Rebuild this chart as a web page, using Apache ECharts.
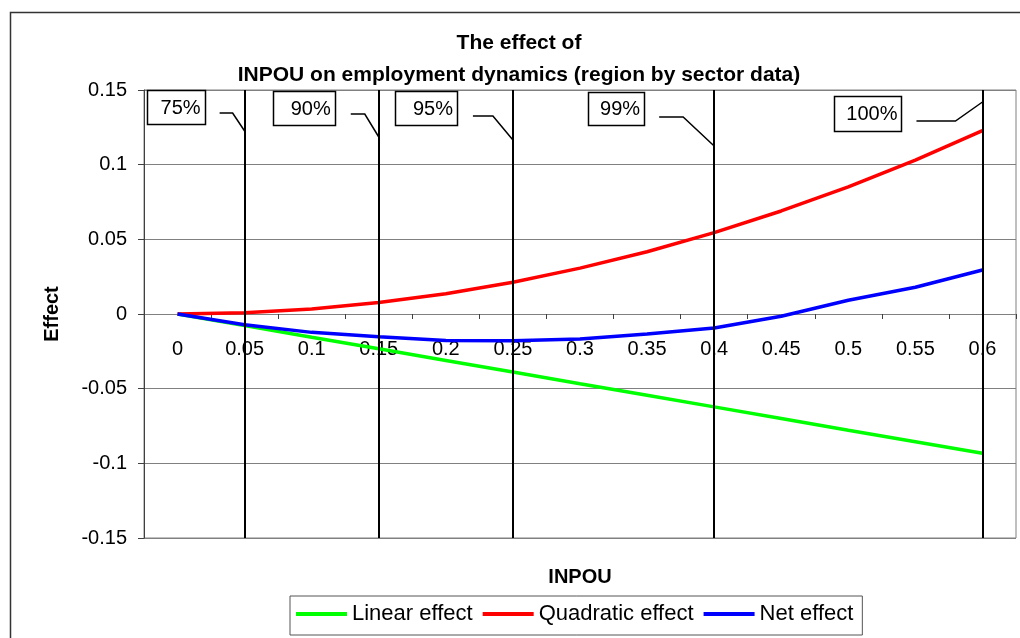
<!DOCTYPE html>
<html><head><meta charset="utf-8">
<script src="https://cdn.jsdelivr.net/npm/echarts@6/dist/echarts.min.js"></script>
<style>html,body{margin:0;padding:0;background:#fff}#c{width:1020px;height:638px}</style>
</head><body><div id="c"></div>
<script>
// ---- data ----
const categories = ['0','0.05','0.1','0.15','0.2','0.25','0.3','0.35','0.4','0.45','0.5','0.55','0.6'];
const linearEffect = [0,-0.0078,-0.0156,-0.0233,-0.0311,-0.0389,-0.0467,-0.0544,-0.0622,-0.07,-0.0778,-0.0855,-0.0933];
const quadraticEffect = [0,0.0009,0.0034,0.0077,0.0136,0.0213,0.0307,0.0417,0.0545,0.069,0.0851,0.103,0.1228];
const netEffect = [0,-0.0072,-0.0123,-0.0152,-0.0177,-0.0179,-0.0167,-0.0134,-0.0094,-0.0015,0.0092,0.0179,0.0295];
const yMin = -0.15, yMax = 0.15, yInterval = 0.05;
const thresholdCategories = ['0.05','0.15','0.25','0.4','0.6'];
const thresholdLabels = ['75%','90%','95%','99%','100%'];
const titleLines = ['The effect of','INPOU on employment dynamics (region by sector data)'];
const xName = 'INPOU', yName = 'Effect';

// ---- layout / style ----
const FONT = '"Liberation Sans", Arial, sans-serif';
const GRID = {left:144, right:4, top:90, bottom:100};
const gridH = 638 - GRID.top - GRID.bottom;
// place the category axis on the y = 0 line
const xAxisOffset = -Math.round((0 - yMin) / (yMax - yMin) * gridH);
const calloutLayout = [
  {box:[-98,-40,90,124],  lead:[[-25,113],[-12,113],[0,131]]},
  {box:[-106,-44,91,125], lead:[[-28,114],[-14,114],[0,137]]},
  {box:[-118,-56,91,125], lead:[[-40,116],[-20,116],[0,140]]},
  {box:[-126,-70,92,125], lead:[[-55,117],[-31,117],[0,146]]},
  {box:[-148,-81,96,131], lead:[[-66,121],[-27,121],[0,102]]}
];

const chart = echarts.init(document.getElementById('c'), null, {renderer:'canvas'});
const lineSeries = (name, data, color) => ({
  name, type:'line', data, symbol:'none', showSymbol:false, smooth:false,
  lineStyle:{color, width:3.5}, itemStyle:{color}, z:2
});
chart.setOption({
  animation:false,
  backgroundColor:'#fff',
  textStyle:{fontFamily:FONT},
  grid:Object.assign({show:true, borderColor:'#808080', borderWidth:1}, GRID),
  legend:{
    data:['Linear effect','Quadratic effect','Net effect'],
    left:290, top:596, orient:'horizontal', icon:'rect', itemWidth:51, itemHeight:4, itemGap:10,
    padding:[7,9,10,6], borderColor:'#555', borderWidth:1, backgroundColor:'#fff',
    textStyle:{fontSize:22, color:'#000', fontFamily:FONT}
  },
  xAxis:{
    type:'category', data:categories, boundaryGap:true, position:'bottom', offset:xAxisOffset,
    axisLine:{show:true, onZero:false, lineStyle:{color:'#808080', width:1}},
    axisTick:{show:true, length:5, lineStyle:{color:'#404040'}},
    axisLabel:{interval:0, margin:25, color:'#000', fontSize:20, fontFamily:FONT},
    splitLine:{show:false}
  },
  yAxis:{
    type:'value', min:yMin, max:yMax, interval:yInterval,
    name:yName, nameLocation:'middle', nameGap:82, nameRotate:90,
    nameTextStyle:{fontWeight:'bold', fontSize:20, color:'#000', fontFamily:FONT},
    axisLine:{show:true, lineStyle:{color:'#404040', width:1}},
    axisTick:{show:true, length:6, lineStyle:{color:'#404040'}},
    axisLabel:{margin:17, color:'#000', fontSize:20, fontFamily:FONT,
      formatter:v => String(+v.toFixed(2))},
    splitLine:{show:true, lineStyle:{color:'#808080', width:1}}
  },
  series:[
    lineSeries('Linear effect', linearEffect, '#00FF00'),
    lineSeries('Quadratic effect', quadraticEffect, '#FF0000'),
    lineSeries('Net effect', netEffect, '#0000FF'),
    {
      name:'thresholds', type:'line', data:[], z:4, silent:true,
      markLine:{silent:true, symbol:'none', label:{show:false}, animation:false,
        lineStyle:{color:'#000', width:2, type:'solid'},
        data:thresholdCategories.map(c => ({xAxis:c}))}
    }
  ]
});

// ---- annotations ----
const g = [];
g.push({type:'rect', silent:true, z:0, shape:{x:10.5, y:12.5, width:1040, height:700},
  style:{fill:null, stroke:'#333', lineWidth:1.5}});
g.push({type:'text', silent:true, z:10, style:{text:titleLines.join('\n'), x:519, y:27,
  textAlign:'center', align:'center', textVerticalAlign:'top', verticalAlign:'top',
  font:'bold 21px ' + FONT, lineHeight:32, fill:'#000'}});
const gridRect = chart.getModel().getComponent('grid').coordinateSystem.getRect();
g.push({type:'text', silent:true, z:10, style:{text:xName, x:gridRect.x + gridRect.width/2, y:577,
  textAlign:'center', align:'center', textVerticalAlign:'middle', verticalAlign:'middle',
  font:'bold 20px ' + FONT, fill:'#000'}});
thresholdCategories.forEach((c, i) => {
  const L = chart.convertToPixel({xAxisIndex:0}, c);
  const lay = calloutLayout[i];
  const [x0, x1, y0, y1] = lay.box;
  g.push({type:'rect', silent:true, z:20, shape:{x:Math.round(L + x0) + 0.5, y:y0 + 0.5, width:x1 - x0, height:y1 - y0},
    style:{fill:'#fff', stroke:'#000', lineWidth:1.5}});
  g.push({type:'text', silent:true, z:21, style:{text:thresholdLabels[i], x:L + x1 - 4, y:(y0 + y1)/2 + 1,
    textAlign:'right', align:'right', textVerticalAlign:'middle', verticalAlign:'middle',
    font:'20px ' + FONT, fill:'#000'}});
  g.push({type:'polyline', silent:true, z:20, shape:{points:lay.lead.map(p => [L + p[0], p[1]])},
    style:{fill:null, stroke:'#000', lineWidth:1.5}});
});
chart.setOption({graphic:g});
</script>
</body></html>
